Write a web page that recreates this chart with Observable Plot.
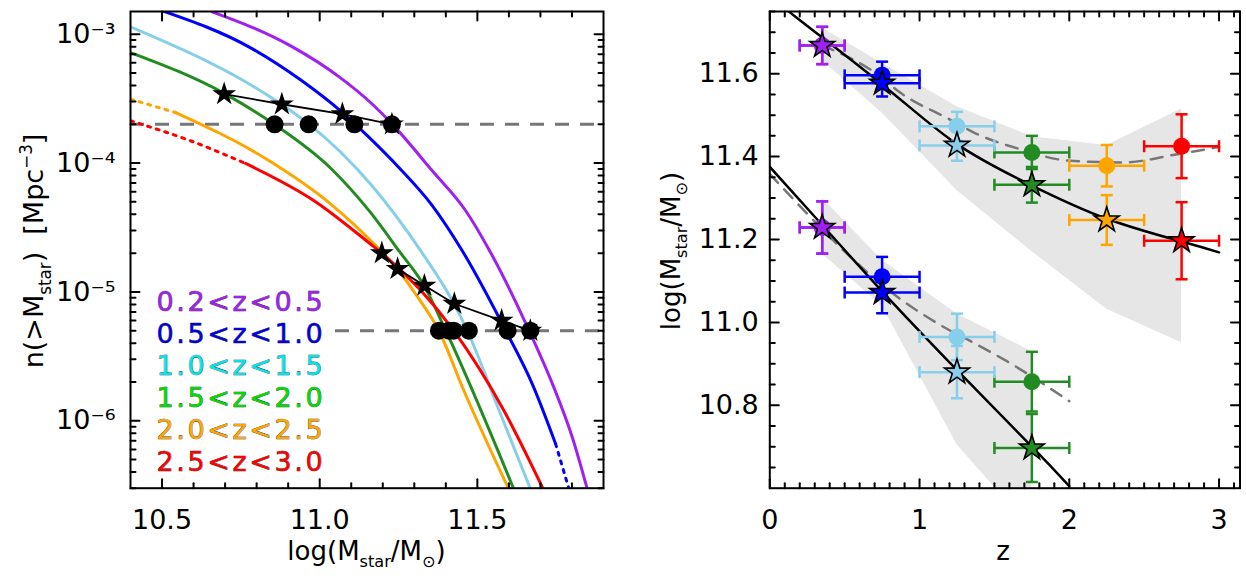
<!DOCTYPE html>
<html>
<head>
<meta charset="utf-8">
<script src="https://cdn.jsdelivr.net/npm/d3@7"></script>
<script src="https://cdn.jsdelivr.net/npm/@observablehq/plot@0.6"></script>
<style>
  html, body { margin: 0; padding: 0; background: #fff; }
  #wrap { display: flex; width: 1246px; height: 576px; }
  #wrap svg { display: block; flex: none; }
</style>
</head>
<body>
<div id="wrap"></div>
<script>
// ---------------- data ----------------
const binLabels = ["0.2<z<0.5","0.5<z<1.0","1.0<z<1.5","1.5<z<2.0","2.0<z<2.5","2.5<z<3.0"];
const binColors = ["#a020f0","#0000ff","#87ceeb","#228b22","#ffa500","#ff0000"];
const legendColors = ["#a020f0","#0000e0","#00e5ee","#00dd00","#ffa500","#ff0000"];
const zMid = [0.35, 0.75, 1.25, 1.75, 2.25, 2.75];
const zLo  = [0.2, 0.5, 1.0, 1.5, 2.0, 2.5];
const zHi  = [0.5, 1.0, 1.5, 2.0, 2.5, 3.0];

// massive progenitors (upper group in right panel)
const massStarHi = [11.668, 11.577, 11.427, 11.332, 11.247, 11.197];
const errStarHi  = [0.045, 0.032, 0.037, 0.043, 0.060, 0.093];
const nStarHi    = [5.0e-6, 6.0e-6, 8.1e-6, 1.12e-5, 1.51e-5, 2.0e-5];
const massCircHi = [11.668, 11.596, 11.473, 11.410, 11.378, 11.425];
const errCircHi  = [0.045, 0.033, 0.035, 0.040, 0.050, 0.077];
const nConstHi = 5e-6;

// less massive progenitors (lower group in right panel)
const massStarLo = [11.229, 11.072, 10.880, 10.697];
const errStarLo  = [0.063, 0.050, 0.063, 0.082];
const nStarLo    = [2.0e-4, 2.4e-4, 2.86e-4, 3.43e-4];
const massCircLo = [11.229, 11.110, 10.965, 10.857];
const errCircLo  = [0.063, 0.048, 0.056, 0.072];
const nConstLo = 2e-4;

// cumulative number density curves: log10 M and log10 n(>M)
const mPurple  = [10.659, 10.908, 11.066, 11.161, 11.230, 11.357, 11.463, 11.537, 11.664, 11.738, 11.801, 11.849];
const lnPurple = [-2.827, -3.091, -3.339, -3.530, -3.698, -4.060, -4.370, -4.672, -5.300, -5.713, -6.127, -6.533];
const mBlue    = [10.501, 10.781, 10.939, 11.073, 11.146, 11.251, 11.357, 11.452, 11.590, 11.674, 11.748];
const lnBlue   = [-2.819, -3.106, -3.354, -3.610, -3.775, -4.034, -4.330, -4.680, -5.300, -5.713, -6.178];
const mBlueDot  = [11.748, 11.791];
const lnBlueDot = [-6.178, -6.533];
const mSky     = [10.400, 10.881, 10.966, 11.161, 11.320, 11.426, 11.468, 11.569, 11.669];
const lnSky    = [-2.943, -3.548, -3.698, -4.163, -4.680, -5.093, -5.301, -5.920, -6.533];
const mGreen   = [10.400, 10.701, 10.855, 11.035, 11.161, 11.251, 11.331, 11.400, 11.616];
const lnGreen  = [-3.143, -3.465, -3.698, -4.040, -4.383, -4.680, -4.951, -5.301, -6.533];
const mOrange  = [10.543, 10.823, 11.035, 11.183, 11.246, 11.304, 11.378, 11.457, 11.600];
const lnOrange = [-3.608, -3.957, -4.318, -4.654, -4.822, -5.016, -5.301, -5.765, -6.533];
const mOrangeDot  = [10.400, 10.543];
const lnOrangeDot = [-3.504, -3.608];
const mRed     = [10.765, 10.982, 11.161, 11.197, 11.425, 11.584, 11.706];
const lnRed    = [-4.003, -4.292, -4.628, -4.699, -5.301, -5.920, -6.515];
const mRedDot  = [10.400, 10.590, 10.765];
const lnRedDot = [-3.672, -3.827, -4.003];

// right panel lines and bands
const fitHiZ = [0.0, 0.127, 0.75, 1.25, 1.75, 2.25, 2.75, 3.0];
const fitHiM = [11.795, 11.750, 11.574, 11.430, 11.330, 11.250, 11.195, 11.169];
const fitLoZ = [0.0, 0.35, 0.75, 1.25, 1.75, 2.0];
const fitLoM = [11.375, 11.235, 11.075, 10.885, 10.700, 10.605];
const dashHiZ = [0.35, 0.75, 0.85, 1.20, 1.38, 1.67, 2.00, 2.36, 2.74, 3.00];
const dashHiM = [11.668, 11.590, 11.560, 11.490, 11.455, 11.418, 11.390, 11.386, 11.407, 11.423];
const dashLoZ = [0.0, 0.87, 1.17, 1.36, 1.58, 2.0];
const dashLoM = [11.358, 11.057, 10.987, 10.951, 10.907, 10.810];
const bandHiZ   = [0.35, 0.75, 1.25, 1.75, 2.25, 2.75];
const bandHiTop = [11.710, 11.625, 11.520, 11.448, 11.427, 11.515];
const bandHiBot = [11.632, 11.505, 11.318, 11.171, 11.032, 10.951];
const bandLoZ   = [0.35, 0.75, 1.25, 1.75];
const bandLoTop = [11.300, 11.150, 11.020, 10.930];
const bandLoBot = [11.165, 11.040, 10.705, 10.500];

// ticks
const leftXMajor = [10.5, 11.0, 11.5];
const leftXMinor = [10.6, 10.7, 10.8, 10.9, 11.1, 11.2, 11.3, 11.4, 11.6, 11.7, 11.8];
const leftYMajor = [1e-6, 1e-5, 1e-4, 1e-3];
const leftYMinor = [];
for (const e of [-7, -6, -5, -4, -3]) for (let k = 2; k <= 9; k++) {
  const v = k * Math.pow(10, e);
  if (v >= 3e-7 && v <= 1.5e-3) leftYMinor.push(v);
}
const rightXMajor = [0, 1, 2, 3];
const rightXMinor = d3.range(1, 32).map(i => i / 10).filter(v => Math.abs(v - Math.round(v)) > 1e-6);
const rightYMajor = [10.8, 11.0, 11.2, 11.4, 11.6];
const rightYMinor = d3.range(10.65, 11.751, 0.05).map(v => +v.toFixed(2)).filter(v => !rightYMajor.includes(v));

// ---------------- helpers ----------------
const FONT = "DejaVu Sans, sans-serif";
const tickShape = { draw(ctx, l) { ctx.moveTo(0, 0); ctx.lineTo(0, -l); } };
const capH = { draw(ctx, size) { const w = Math.sqrt(size / Math.PI); ctx.moveTo(-w, 0); ctx.lineTo(w, 0); } };
const capV = { draw(ctx, size) { const w = Math.sqrt(size / Math.PI); ctx.moveTo(0, -w); ctx.lineTo(0, w); } };

function frameTicks(xMaj, xMin, yMaj, yMin) {
  const o = { shape: tickShape, anchor: "start", stroke: "black", strokeWidth: 2 };
  const marks = [];
  for (const [vals, len] of [[xMaj, 9], [xMin, 5]]) {
    marks.push(Plot.vector(vals, { ...o, x: d => d, frameAnchor: "bottom", rotate: 0, length: len }));
    marks.push(Plot.vector(vals, { ...o, x: d => d, frameAnchor: "top", rotate: 180, length: len }));
  }
  for (const [vals, len] of [[yMaj, 9], [yMin, 5]]) {
    marks.push(Plot.vector(vals, { ...o, y: d => d, frameAnchor: "left", rotate: 90, length: len }));
    marks.push(Plot.vector(vals, { ...o, y: d => d, frameAnchor: "right", rotate: -90, length: len }));
  }
  return marks;
}

function rows(xs, ys, f = v => v) { return xs.map((x, i) => ({ x, y: f(ys[i]) })); }
const pow10 = v => Math.pow(10, v);
const supMap = { "-": "\u207b", "0": "\u2070", "1": "\u00b9", "2": "\u00b2", "3": "\u00b3", "4": "\u2074", "5": "\u2075", "6": "\u2076", "7": "\u2077", "8": "\u2078", "9": "\u2079" };
const fmtPow = d => "10" + String(Math.round(Math.log10(d))).split("").map(c => supMap[c]).join("");

function richText(svg, x, y, rot, parts, size) {
  const t = d3.select(svg).append("text")
    .attr("transform", `translate(${x},${y}) rotate(${rot})`)
    .attr("text-anchor", "middle")
    .attr("font-family", FONT)
    .attr("font-size", size)
    .attr("fill", "black");
  let shift = 0;
  for (const p of parts) {
    const s = p.sub ? 0.28 * size : p.sup ? -0.42 * size : 0;
    t.append("tspan")
      .attr("dy", s - shift)
      .attr("font-size", (p.sub || p.sup) ? size * 0.62 : size)
      .text(p.t);
    shift = s;
  }
}

// ---------------- left panel ----------------
const solidCurves = [[mPurple, lnPurple, 0], [mBlue, lnBlue, 1], [mSky, lnSky, 2], [mGreen, lnGreen, 3], [mOrange, lnOrange, 4], [mRed, lnRed, 5]];
const dottedCurves = [[mBlueDot, lnBlueDot, 1], [mOrangeDot, lnOrangeDot, 4], [mRedDot, lnRedDot, 5]];

const starsLeftHi = rows(massStarHi, nStarHi);
const starsLeftLo = rows(massStarLo, nStarLo);
const circLeft = [...massCircHi.map(x => ({ x, y: nConstHi })), ...massCircLo.map(x => ({ x, y: nConstLo }))];

const left = Plot.plot({
  width: 623, height: 576,
  marginLeft: 130, marginRight: 20, marginTop: 11, marginBottom: 88.3,
  style: { fontFamily: FONT, fontSize: "26px", background: "white", color: "black" },
  x: { domain: [10.4, 11.9] },
  y: { type: "log", domain: [3e-7, 1.5e-3] },
  marks: [
    Plot.ruleY([nConstLo], { x1: 10.4, x2: 11.9, stroke: "#777", strokeWidth: 3, strokeDasharray: "14,11" }),
    Plot.ruleY([nConstHi], { x1: 11.05, x2: 11.9, stroke: "#777", strokeWidth: 3, strokeDasharray: "14,11" }),
    ...solidCurves.map(([ms, lns, i]) => Plot.line(rows(ms, lns, pow10), { x: "x", y: "y", stroke: binColors[i], strokeWidth: 3, curve: "monotone-x", clip: true })),
    ...dottedCurves.map(([ms, lns, i]) => Plot.line(rows(ms, lns, pow10), { x: "x", y: "y", stroke: binColors[i], strokeWidth: 3, strokeDasharray: "3,6", curve: "monotone-x", clip: true })),
    Plot.line(starsLeftHi, { x: "x", y: "y", stroke: "black", strokeWidth: 1.8 }),
    Plot.line(starsLeftLo, { x: "x", y: "y", stroke: "black", strokeWidth: 1.8 }),
    Plot.dot(circLeft, { x: "x", y: "y", r: 9, fill: "black" }),
    Plot.dot([...starsLeftHi, ...starsLeftLo], { x: "x", y: "y", symbol: "star", r: 7.5, fill: "black" }),
    ...frameTicks(leftXMajor, leftXMinor, leftYMajor, leftYMinor),
    Plot.frame({ stroke: "black", strokeWidth: 2 }),
    Plot.axisX({ ticks: leftXMajor, tickSize: 0, tickPadding: 22, tickFormat: d3.format(".1f"), label: null, fontSize: 27 }),
    Plot.axisY({ ticks: leftYMajor, tickSize: 0, tickPadding: 15, tickFormat: fmtPow, label: null, fontSize: 27 }),
    ...binLabels.map((lab, i) => Plot.text([lab], {
      text: d => d, frameAnchor: "top-left", dx: 26, dy: 290.7 + 32 * i,
      textAnchor: "start", lineAnchor: "middle", fontSize: 27,
      fill: legendColors[i], stroke: "#222", strokeWidth: 0.6, paintOrder: "stroke"
    }))
  ]
});
// widen legend lettering to match the reference
d3.select(left).selectAll("text")
  .filter(function () { return binLabels.includes(this.textContent); })
  .attr("letter-spacing", 2.6);
richText(left, 366.5, 560, 0, [{ t: "log(M" }, { t: "star", sub: true }, { t: "/M" }, { t: "\u2299", sub: true }, { t: ")" }], 26);
richText(left, 43, 251, -90, [{ t: "n(>M" }, { t: "star", sub: true }, { t: ")\u00a0\u00a0[Mpc" }, { t: "\u22123", sup: true }, { t: "]" }], 27);

// ---------------- right panel ----------------
const ptsHi = zMid.flatMap((z, i) => [
  { z, lo: zLo[i], hi: zHi[i], m: massCircHi[i], e: errCircHi[i], color: binColors[i], kind: "circle" },
  { z, lo: zLo[i], hi: zHi[i], m: massStarHi[i], e: errStarHi[i], color: binColors[i], kind: "star" }
]);
const ptsLo = massStarLo.flatMap((_, i) => [
  { z: zMid[i], lo: zLo[i], hi: zHi[i], m: massCircLo[i], e: errCircLo[i], color: binColors[i], kind: "circle" },
  { z: zMid[i], lo: zLo[i], hi: zHi[i], m: massStarLo[i], e: errStarLo[i], color: binColors[i], kind: "star" }
]);
const pts = [...ptsHi, ...ptsLo];
const circs = pts.filter(d => d.kind === "circle");
const stars = pts.filter(d => d.kind === "star");
const bandHi = bandHiZ.map((z, i) => ({ z, y1: bandHiBot[i], y2: bandHiTop[i] }));
const bandLo = bandLoZ.map((z, i) => ({ z, y1: bandLoBot[i], y2: bandLoTop[i] }));
const errStyle = { stroke: "color", strokeWidth: 2.5 };

const right = Plot.plot({
  width: 623, height: 576,
  marginLeft: 146.3, marginRight: 6.5, marginTop: 11, marginBottom: 88.3,
  style: { fontFamily: FONT, fontSize: "26px", background: "white", color: "black" },
  x: { domain: [0, 3.14] },
  y: { domain: [10.6, 11.75] },
  color: { type: "identity" },
  marks: [
    Plot.areaY(bandHi, { x: "z", y1: "y1", y2: "y2", fill: "#e6e6e6", clip: true }),
    Plot.areaY(bandLo, { x: "z", y1: "y1", y2: "y2", fill: "#e6e6e6", clip: true }),
    Plot.line(rows(dashHiZ, dashHiM), { x: "x", y: "y", stroke: "#777", strokeWidth: 2.5, strokeDasharray: "12,9", curve: "monotone-x", clip: true }),
    Plot.line(rows(dashLoZ, dashLoM), { x: "x", y: "y", stroke: "#777", strokeWidth: 2.5, strokeDasharray: "12,9", curve: "monotone-x", clip: true }),
    Plot.line(rows(fitHiZ, fitHiM), { x: "x", y: "y", stroke: "black", strokeWidth: 2.5, curve: "natural", clip: true }),
    Plot.line(rows(fitLoZ, fitLoM), { x: "x", y: "y", stroke: "black", strokeWidth: 2.5, curve: "natural", clip: true }),
    Plot.ruleX(pts, { x: "z", y1: d => d.m - d.e, y2: d => d.m + d.e, ...errStyle }),
    Plot.ruleY(pts, { y: "m", x1: "lo", x2: "hi", ...errStyle }),
    Plot.dot(pts, { x: "z", y: d => d.m + d.e, symbol: capH, r: 6, fill: "none", ...errStyle }),
    Plot.dot(pts, { x: "z", y: d => d.m - d.e, symbol: capH, r: 6, fill: "none", ...errStyle }),
    Plot.dot(pts, { x: "lo", y: "m", symbol: capV, r: 6, fill: "none", ...errStyle }),
    Plot.dot(pts, { x: "hi", y: "m", symbol: capV, r: 6, fill: "none", ...errStyle }),
    Plot.dot(circs, { x: "z", y: "m", r: 8.5, fill: "color" }),
    Plot.dot(stars, { x: "z", y: "m", symbol: "star", r: 7.8, fill: "color", stroke: "black", strokeWidth: 1.6 }),
    ...frameTicks(rightXMajor, rightXMinor, rightYMajor, rightYMinor),
    Plot.frame({ stroke: "black", strokeWidth: 2 }),
    Plot.axisX({ ticks: rightXMajor, tickSize: 0, tickPadding: 22, tickFormat: d3.format("d"), label: null, fontSize: 27 }),
    Plot.axisY({ ticks: rightYMajor, tickSize: 0, tickPadding: 11, tickFormat: d3.format(".1f"), label: null, fontSize: 27 })
  ]
});
richText(right, 57, 251, -90, [{ t: "log(M" }, { t: "star", sub: true }, { t: "/M" }, { t: "\u2299", sub: true }, { t: ")" }], 26);
richText(right, 380, 560, 0, [{ t: "z" }], 26);

document.getElementById("wrap").append(left, right);
</script>
</body>
</html>
